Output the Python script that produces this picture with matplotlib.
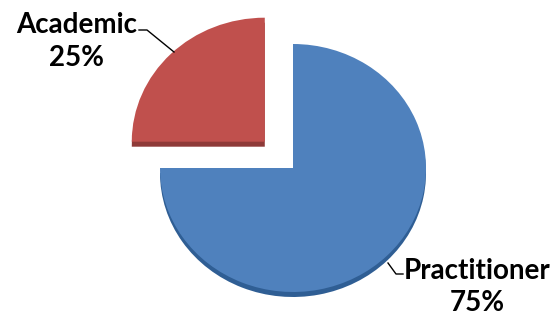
import matplotlib.pyplot as plt

# data
labels = ["Academic", "Practitioner"]
shares = [25, 75]
colors = ["#C0504D", "#4F81BD"]
edge_colors = ["#8E3A38", "#2F5E94"]
explode = [0.3, 0.0]

W, H = 554, 321
fig = plt.figure(figsize=(W / 100, H / 100), dpi=100)
fig.patch.set_facecolor("white")
ax = fig.add_axes([0, 0, 1, 1])

# pixel geometry of the pie: centre and radii
cx, cy = 293, 168
rx, ry = 133, 124

# darker "side" of the 3d pie, shifted down a little
depth = 5 / ry
ax.pie(shares, colors=edge_colors, explode=explode, startangle=90,
       counterclock=True, center=(0, -depth), radius=1,
       frame=True, wedgeprops=dict(linewidth=0))
ax.pie(shares, colors=colors, explode=explode, startangle=90,
       counterclock=True, center=(0, 0), radius=1,
       frame=True, wedgeprops=dict(linewidth=0))
ax.set_xlim(-cx / rx, (W - cx) / rx)
ax.set_ylim(-(H - cy) / ry, cy / ry)
ax.set_aspect("auto")
ax.axis("off")


def px(x, y):
    return x / W, 1 - y / H


font = dict(family=["Lato", "DejaVu Sans"], weight="bold", size=20, color="black")

# Academic label
fig.text(*px(77, 25), labels[0], ha="center", va="center", **font)
fig.text(*px(77, 58), f"{shares[0]}%", ha="center", va="center", **font)
xs = [139 / W, 147 / W, 174 / W]
ys = [1 - 30 / H, 1 - 30 / H, 1 - 52 / H]
fig.add_artist(plt.Line2D(xs, ys, color="black", lw=1))

# Practitioner label
fig.text(*px(477, 271), labels[1], ha="center", va="center", **font)
fig.text(*px(477, 303), f"{shares[1]}%", ha="center", va="center", **font)
xs = [388 / W, 396 / W, 403 / W]
ys = [1 - 263 / H, 1 - 274 / H, 1 - 274 / H]
fig.add_artist(plt.Line2D(xs, ys, color="black", lw=1))

fig.savefig("out.png", dpi=100)
